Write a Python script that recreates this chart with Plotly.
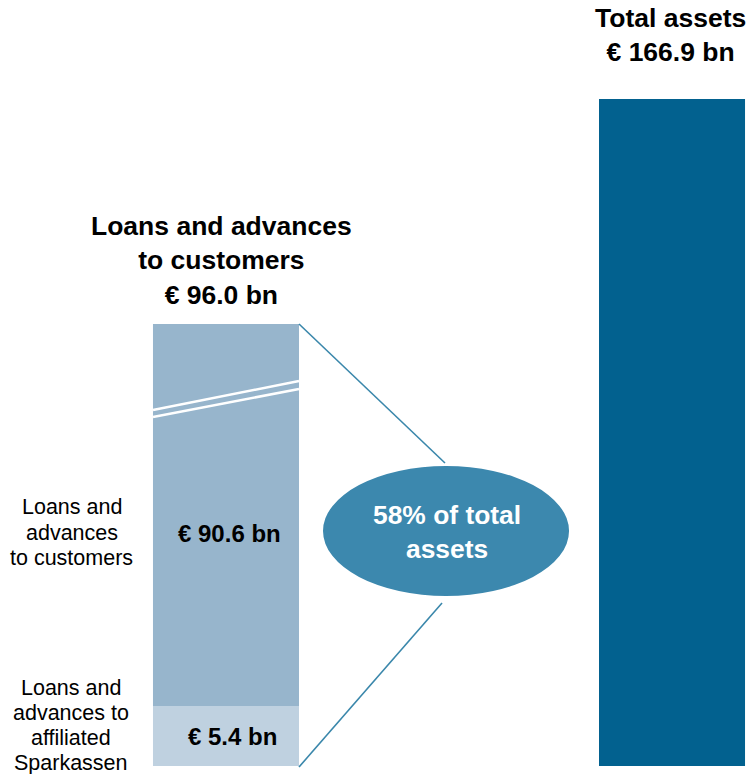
import plotly.graph_objects as go

# ---- data ----
categories = ["Loans and advances to customers", "Total assets"]
total_assets = 166.9
loans_total = 96.0
loans_customers = 90.6
loans_sparkassen = 5.4
share_label = "58% of total<br>assets"
label_customers = ["Loans and", "advances", "to customers"]
label_sparkassen = ["Loans and", "advances to", "affiliated", "Sparkassen"]

FONT = "Liberation Sans, Arial, sans-serif"
W, H = 749, 774
cat_left, cat_right = categories

fig = go.Figure()

# right bar: total assets
fig.add_trace(go.Bar(x=[cat_right], y=[total_assets], width=0.3274,
                     marker=dict(color="#02618f", line=dict(width=0)),
                     xaxis="x", yaxis="y", hoverinfo="skip"))
# left bar bottom segment (broken scale -> own axis)
fig.add_trace(go.Bar(x=[cat_left], y=[loans_sparkassen], width=0.3274,
                     marker=dict(color="#bfd1e0", line=dict(width=0)),
                     xaxis="x", yaxis="y2", hoverinfo="skip"))
# left bar top segment
fig.add_trace(go.Bar(x=[cat_left], y=[loans_customers], width=0.3274,
                     marker=dict(color="#97b5cc", line=dict(width=0)),
                     xaxis="x", yaxis="y3", hoverinfo="skip"))

def py(px):
    return 1 - px / H

hidden = dict(visible=False, showgrid=False, zeroline=False, fixedrange=True)
px_per_bn = (766 - 99) / total_assets

fig.update_layout(
    width=W, height=H,
    margin=dict(l=0, r=0, t=0, b=0),
    paper_bgcolor="white", plot_bgcolor="rgba(0,0,0,0)",
    showlegend=False,
    barmode="overlay",
    xaxis=dict(hidden, type="category", categoryorder="array",
               categoryarray=categories, range=[-0.5067, 1.1726], domain=[0, 1]),
    yaxis=dict(hidden, domain=[0, 1],
               range=[-8 / px_per_bn, total_assets + 99 / px_per_bn]),
    yaxis2=dict(hidden, domain=[py(766), py(706)], range=[0, loans_sparkassen], anchor="x"),
    yaxis3=dict(hidden, domain=[py(706), py(324)], range=[0, loans_customers], anchor="x"),
    font=dict(family=FONT, color="black"),
)

half = 0.3274 / 2
line_col = "#3a87ab"
shapes = [
    # break marks
    dict(type="line", xref="x", yref="paper", x0=-half, x1=half,
         y0=py(410), y1=py(381), line=dict(color="white", width=2.5)),
    dict(type="line", xref="x", yref="paper", x0=-half, x1=half,
         y0=py(417), y1=py(389), line=dict(color="white", width=2.5)),
    # connector lines
    dict(type="line", xref="x", yref="paper", x0=half, x1=0.491,
         y0=py(324), y1=py(463), line=dict(color=line_col, width=1.6)),
    dict(type="line", xref="x", yref="paper", x0=half, x1=0.4843,
         y0=py(767), y1=py(603), line=dict(color=line_col, width=1.6)),
    # ellipse
    dict(type="circle", xref="x", yref="paper", x0=0.2175, x1=0.7691,
         y0=py(596), y1=py(466), fillcolor="#3c88ae", line=dict(width=0)),
]
fig.update_layout(shapes=shapes)

def ann(text, x, y, size, bold=False, color="black", xref="paper"):
    fig.add_annotation(text=f"<b>{text}</b>" if bold else text, x=x, y=y,
                       xref=xref, yref="paper", showarrow=False,
                       xanchor="center", yanchor="middle", align="center",
                       font=dict(family=FONT, size=size, color=color))

ann(f"Total assets<br>€ {total_assets:.1f} bn", 670.5 / W, py(35), 26.5, bold=True)
ann(f"Loans and advances<br>to customers<br>€ {loans_total:.1f} bn", 221.5 / W, py(261), 26.5, bold=True)
for i, t in enumerate(label_customers):
    ann(t, 71.5 / W, py(507 + 25.5 * i), 21.5)
for i, t in enumerate(label_sparkassen):
    ann(t, 71 / W, py(688 + 25 * i), 21.5)
ann(f"€ {loans_customers:.1f} bn", 229 / W, py(533), 24, bold=True)
ann(f"€ {loans_sparkassen:.1f} bn", 232 / W, py(736), 24, bold=True)
ann(share_label, 447 / W, py(532), 26.4, bold=True, color="white")

fig.write_html("out.html", config={"displayModeBar": False},
               post_script="document.body.style.margin='0';document.body.style.overflow='hidden';")
